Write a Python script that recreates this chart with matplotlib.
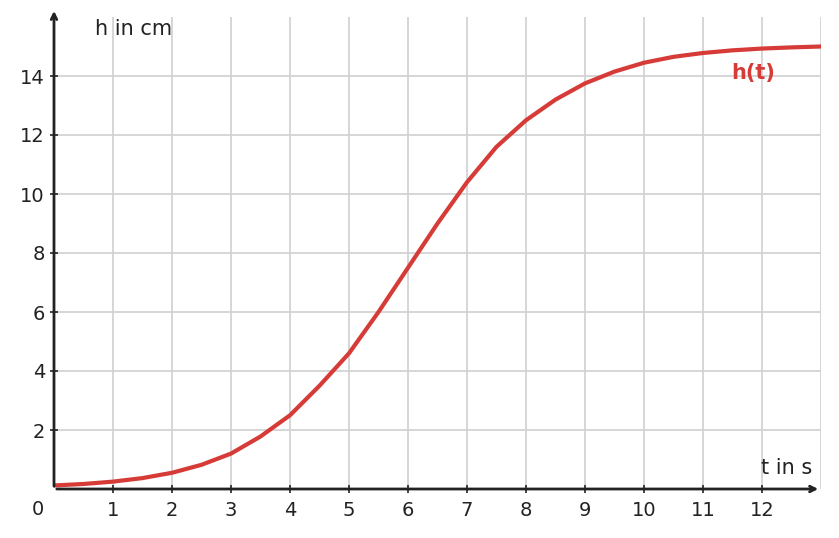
import matplotlib
matplotlib.use("Agg")
import matplotlib.pyplot as plt

t = [0, 0.5, 1, 1.5, 2, 2.5, 3, 3.5, 4, 4.5, 5, 5.5, 6, 6.5, 7, 7.5, 8, 8.5, 9, 9.5, 10, 10.5, 11, 11.5, 12, 12.5, 13]
h = [0.12, 0.17, 0.25, 0.37, 0.55, 0.82, 1.2, 1.78, 2.5, 3.5, 4.6, 6.0, 7.5, 9.0, 10.4, 11.6, 12.5, 13.2, 13.75, 14.15, 14.45, 14.65, 14.78, 14.87, 14.93, 14.97, 15.0]
xticks = list(range(1, 13))
yticks = [2, 4, 6, 8, 10, 12, 14]

fig = plt.figure(figsize=(8.39, 5.38), dpi=100)
ax = fig.add_axes([54/839, 49/538, (821-54)/839, (489-17)/538])
ax.set_xlim(0, 13)
ax.set_ylim(0, 16)
for s in ax.spines.values():
    s.set_visible(False)
for x in range(1, 14):
    ax.axvline(x, color="#d0d0d0", lw=1.2, zorder=0)
for y in range(2, 16, 2):
    ax.axhline(y, color="#d0d0d0", lw=1.2, zorder=0)
ax.plot(t, h, color="#d63b37", lw=3, solid_capstyle="round", zorder=3)
ax.annotate("", xy=(13, 0), xytext=(0, 0), xycoords="data",
            arrowprops=dict(arrowstyle="->", color="#222", lw=2), annotation_clip=False)
ax.annotate("", xy=(0, 16.3), xytext=(0, 0), xycoords="data",
            arrowprops=dict(arrowstyle="->", color="#222", lw=2), annotation_clip=False)
ax.set_xticks(xticks)
ax.set_yticks(yticks)
ax.tick_params(axis="both", direction="inout", length=6, color="#222", labelsize=14, labelcolor="#222", width=1.2)
ax.tick_params(axis="x", pad=6)
ax.text(-0.28, -0.7, "0", fontsize=14, color="#222", ha="center", va="center")
ax.text(0.7, 15.6, "h in cm", fontsize=15, color="#222", ha="left", va="center")
ax.text(12.85, 0.7, "t in s", fontsize=15, color="#222", ha="right", va="center")
ax.text(11.85, 14.1, "h(t)", fontsize=15, color="#d63b37", fontweight="bold", ha="center", va="center")
fig.savefig("out.png", dpi=100)
